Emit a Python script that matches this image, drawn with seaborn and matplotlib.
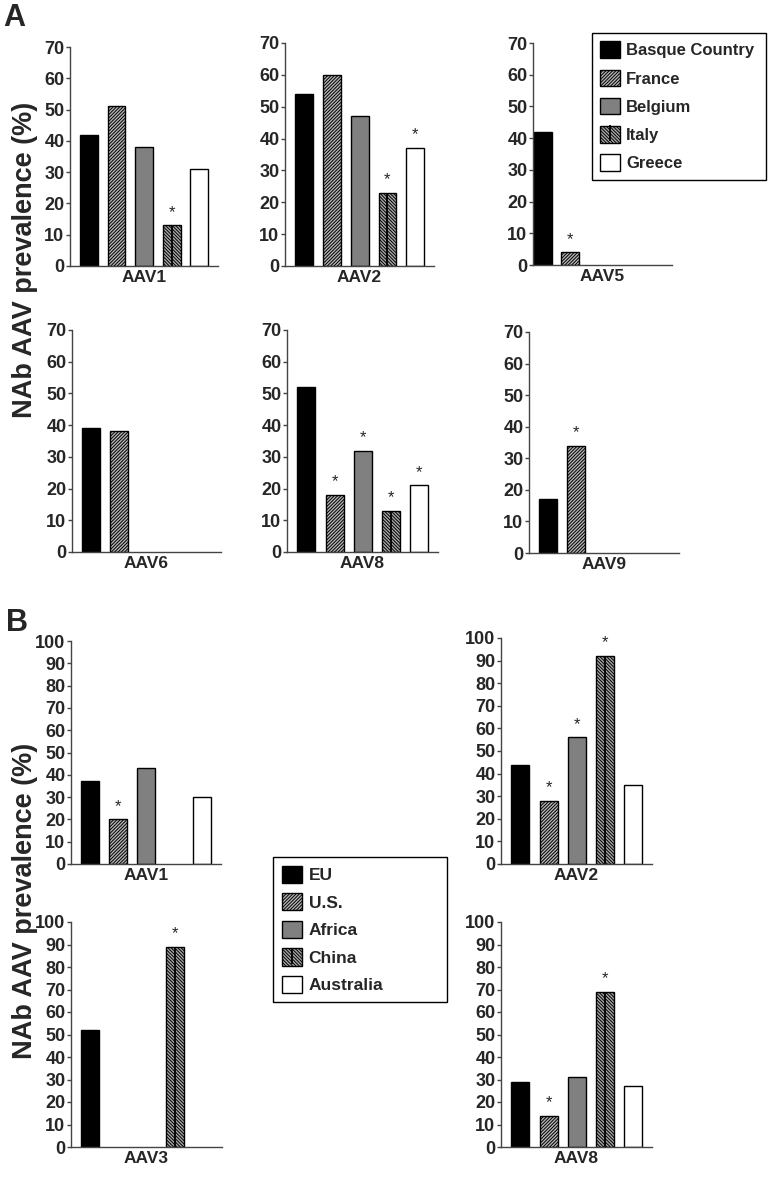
import numpy as np
import pandas as pd
import seaborn as sns
import matplotlib.pyplot as plt
from matplotlib.patches import Patch
from matplotlib.lines import Line2D
from matplotlib.legend_handler import HandlerTuple

nan = np.nan

regions_a = ["Basque Country", "France", "Belgium", "Italy", "Greece"]
regions_b = ["EU", "U.S.", "Africa", "China", "Australia"]

# panel A, NAb prevalence (%) per country
a_aav1 = [42, 51, 38, 13, 31]
a_aav2 = [54, 60, 47, 23, 37]
a_aav5 = [42, 4, nan, nan, nan]
a_aav6 = [39, 38, nan, nan, nan]
a_aav8 = [52, 18, 32, 13, 21]
a_aav9 = [17, 34, nan, nan, nan]
a_sig1 = [0, 0, 0, 1, 0]
a_sig2 = [0, 0, 0, 1, 1]
a_sig5 = [0, 1, 0, 0, 0]
a_sig6 = [0, 0, 0, 0, 0]
a_sig8 = [0, 1, 1, 1, 1]
a_sig9 = [0, 1, 0, 0, 0]

# panel B, NAb prevalence (%) per region
b_aav1 = [37, 20, 43, nan, 30]
b_aav2 = [44, 28, 56, 92, 35]
b_aav3 = [52, nan, nan, 89, nan]
b_aav8 = [29, 14, 31, 69, 27]
b_sig1 = [0, 1, 0, 0, 0]
b_sig2 = [0, 1, 1, 1, 0]
b_sig3 = [0, 0, 0, 1, 0]
b_sig8 = [0, 1, 0, 1, 0]

fills = ["black", "#b4b4b4", "#808080", "#a8a8a8", "white"]
hatches = [None, "//////////", None, "\\" * 10, None]

sns.set_style("ticks")
plt.rcParams["font.family"] = ["Liberation Sans", "DejaVu Sans"]
plt.rcParams["hatch.linewidth"] = 0.7

W, H = 768, 1181
fig = plt.figure(figsize=(W / 100, H / 100), dpi=100)


def add_axes(left, right, top, bottom):
    return fig.add_axes([left / W, 1 - bottom / H, (right - left) / W, (bottom - top) / H])


def draw_panel(ax, regions, values, sig, name, ymax, xleft=-0.69):
    df = pd.DataFrame({"region": regions, "value": values}).dropna()
    sns.barplot(data=df, x="region", y="value", order=regions, width=0.64,
                color="white", ax=ax, errorbar=None)
    for p in ax.patches:
        i = int(round(p.get_x() + p.get_width() / 2))
        p.set_facecolor(fills[i])
        p.set_edgecolor("black")
        p.set_linewidth(1.0)
        if hatches[i]:
            p.set_hatch(hatches[i])
        cx = p.get_x() + p.get_width() / 2
        if i == 3:
            ax.vlines(cx, 0, p.get_height(), color="black", lw=1.3)
        if sig[i]:
            ax.annotate("*", (cx, p.get_height()), xytext=(0, 4), textcoords="offset points",
                        ha="center", va="bottom", fontsize=12)
    ax.set_xlim(xleft, 4.68)
    ax.set_ylim(0, ymax)
    ax.set_yticks(range(0, ymax + 1, 10))
    ax.set_xticks([])
    ax.set_ylabel("")
    ax.set_xlabel(name, fontsize=12.5, fontweight="bold", labelpad=3)
    for t in ax.get_yticklabels():
        t.set_fontweight("bold")
    ax.tick_params(axis="y", labelsize=13, length=3, width=1, color="#444", pad=1)
    for s in ["left", "bottom"]:
        ax.spines[s].set_color("#444")
        ax.spines[s].set_linewidth(1.0)
    sns.despine(ax=ax)


# panel A
draw_panel(add_axes(70, 218, 47, 266), regions_a, a_aav1, a_sig1, "AAV1", 70)
draw_panel(add_axes(285, 434, 43, 266), regions_a, a_aav2, a_sig2, "AAV2", 70)
draw_panel(add_axes(533, 672, 43, 265), regions_a, a_aav5, a_sig5, "AAV5", 70, xleft=-0.35)
draw_panel(add_axes(72, 221, 330, 552), regions_a, a_aav6, a_sig6, "AAV6", 70)
draw_panel(add_axes(287, 438, 330, 552), regions_a, a_aav8, a_sig8, "AAV8", 70)
draw_panel(add_axes(529, 679, 332, 553), regions_a, a_aav9, a_sig9, "AAV9", 70)

# panel B
draw_panel(add_axes(71, 221, 641, 864), regions_b, b_aav1, b_sig1, "AAV1", 100)
draw_panel(add_axes(501, 652, 638, 864), regions_b, b_aav2, b_sig2, "AAV2", 100)
draw_panel(add_axes(71, 222, 922, 1147), regions_b, b_aav3, b_sig3, "AAV3", 100)
draw_panel(add_axes(501, 652, 922, 1147), regions_b, b_aav8, b_sig8, "AAV8", 100)


def legend_handles():
    hs = []
    for i in range(5):
        p = Patch(facecolor=fills[i], edgecolor="black", hatch=hatches[i], linewidth=1.0)
        if i == 3:
            hs.append((p, Line2D([], [], color="black", marker="|", linestyle="none",
                                 markersize=12, markeredgewidth=1.3)))
        else:
            hs.append(p)
    return hs


leg_kw = dict(loc="upper left", mode="expand", frameon=True, fancybox=False, framealpha=1,
              edgecolor="black", handlelength=1.15, handleheight=1.15,
              handletextpad=0.4, borderpad=0.5, borderaxespad=0,
              handler_map={tuple: HandlerTuple(ndivide=1)})
lg = fig.legend(legend_handles(), regions_a,
                bbox_to_anchor=(592 / W, 1 - 184 / H, 174 / W, 151 / H),
                labelspacing=0.68, prop={"weight": "bold", "size": 12}, **leg_kw)
lg.get_frame().set_linewidth(1.0)
lg = fig.legend(legend_handles(), regions_b,
                bbox_to_anchor=(273 / W, 1 - 1006 / H, 174 / W, 149 / H),
                labelspacing=0.58, prop={"weight": "bold", "size": 12.5}, **leg_kw)
lg.get_frame().set_linewidth(1.0)

# shared y labels and panel letters
fig.text(25 / W, 1 - 260 / H, "NAb AAV prevalence (%)", rotation=90, ha="center",
         va="center", fontsize=19.5, fontweight="bold")
fig.text(25 / W, 1 - 901 / H, "NAb AAV prevalence (%)", rotation=90, ha="center",
         va="center", fontsize=19.5, fontweight="bold")
fig.text(3 / W, 1 - 3 / H, "A", ha="left", va="top", fontsize=22, fontweight="bold")
fig.text(6 / W, 1 - 608 / H, "B", ha="left", va="top", fontsize=22, fontweight="bold")

fig.savefig("out.png", dpi=100)
